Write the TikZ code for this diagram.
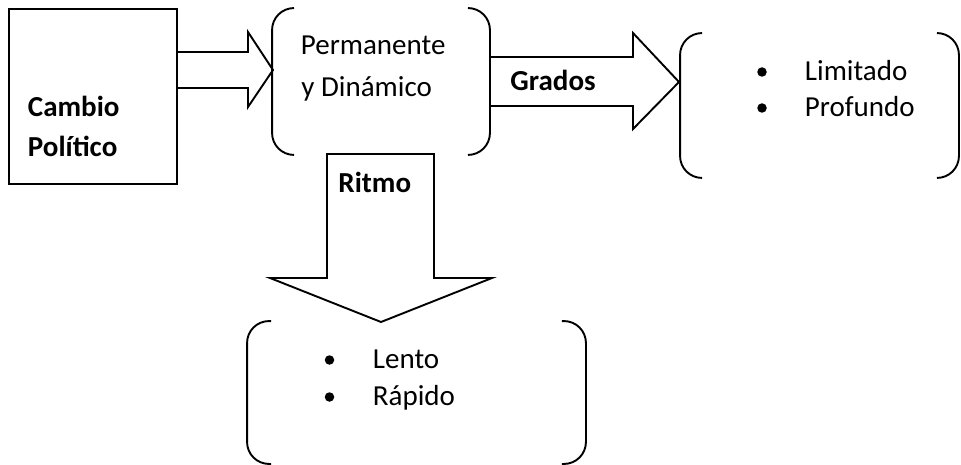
\documentclass[tikz,border=0pt]{standalone}
\usepackage{fontspec}
\setmainfont{Carlito}
\begin{document}
\begin{tikzpicture}[x=1pt,y=-1pt,
  line width=1.9pt, line join=miter,
  txt/.style={anchor=base west, inner sep=0pt, font=\fontsize{29}{35}\selectfont},
  btxt/.style={txt, font=\fontsize{29}{35}\selectfont\bfseries},
  area/.style={draw=none, inner sep=0pt, rectangle},
  bul/.style={circle, fill=black, draw=none, inner sep=0pt, minimum size=9.5pt},
  bracketbox/.style={rounded corners=22pt}
]
\useasboundingbox (0,0) rectangle (961,465);

% Cambio politico box
\node[draw, rectangle, inner sep=0pt, minimum width=168pt, minimum height=175pt] (cambio) at (93,96.5) {};
\node[btxt] (t1) at (27,117) {Cambio};
\node[btxt] (t2) at (27,156.5) {Político};

% bracket box 1
\node[area, minimum width=216pt, minimum height=145pt] (b1) at (381,81.5) {};
\draw[bracketbox] ([xshift=22pt]b1.north west) -- (b1.north west) -- (b1.south west) -- ([xshift=22pt]b1.south west);
\draw[bracketbox] ([xshift=-22pt]b1.north east) -- (b1.north east) -- (b1.south east) -- ([xshift=-22pt]b1.south east);
\node[txt] (p1) at (300,55) {Permanente};
\node[txt] (p2) at (300.5,96.5) {y Dinámico};

% bracket box 2
\node[area, minimum width=277pt, minimum height=143pt] (b2) at (819.5,105.5) {};
\draw[bracketbox] ([xshift=22pt]b2.north west) -- (b2.north west) -- (b2.south west) -- ([xshift=22pt]b2.south west);
\draw[bracketbox] ([xshift=-22pt]b2.north east) -- (b2.north east) -- (b2.south east) -- ([xshift=-22pt]b2.south east);
\node[bul] (d1) at (762,72) {};
\node[bul] (d2) at (762,108) {};
\node[txt] (l1) at (804,81) {Limitado};
\node[txt] (l2) at (804,117) {Profundo};

% bracket box 3
\node[area, minimum width=337pt, minimum height=141pt] (b3) at (416.5,392.5) {};
\draw[bracketbox] ([xshift=24pt]b3.north west) -- (b3.north west) -- (b3.south west) -- ([xshift=24pt]b3.south west);
\draw[bracketbox] ([xshift=-24pt]b3.north east) -- (b3.north east) -- (b3.south east) -- ([xshift=-24pt]b3.south east);
\node[bul] (d3) at (329.5,360) {};
\node[bul] (d4) at (329.5,397) {};
\node[txt] (r1) at (372,368.5) {Lento};
\node[txt] (r2) at (372,405) {Rápido};

% arrow 1: cambio -> b1
\coordinate (a1tip) at (273,70);
\draw (cambio.east |- 0,52) -- (248,52) -- (248,32) -- (a1tip) -- (248,107) -- (248,88) -- (cambio.east |- 0,88);

% arrow Grados: b1 -> b2
\coordinate (a2tip) at (679,82);
\draw (b1.east |- 0,57) -- (633,57) -- (633,33) -- (a2tip) -- (633,129) -- (633,106) -- (b1.east |- 0,106);
\node[btxt] (g) at (509.5,90.5) {Grados};

% arrow Ritmo: b1 -> b3
\coordinate (a3tip) at (381,322);
\draw (327,154) -- (434,154) -- (434,278) -- (492,278) -- (a3tip) -- (270,278) -- (327,278) -- cycle;
\node[btxt] (rt) at (337.5,193) {Ritmo};
\end{tikzpicture}
\end{document}
